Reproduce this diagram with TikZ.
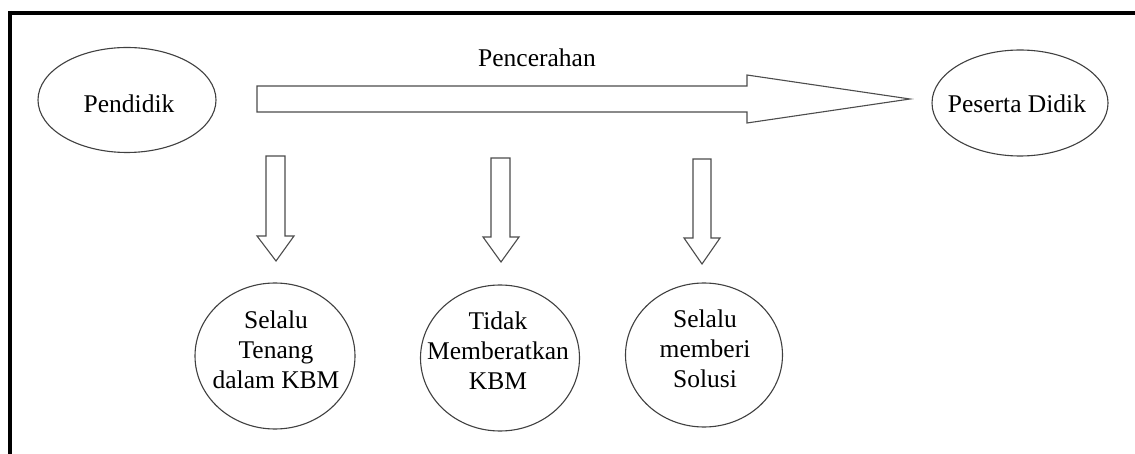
\documentclass[tikz,border=0pt]{standalone}
\usepackage{fontspec}
\newfontfamily\tnr{Liberation Serif}
\usetikzlibrary{shapes.geometric}
\begin{document}
\begin{tikzpicture}[x=1pt,y=-1pt,
  txt/.style={inner sep=0pt, align=center, font=\tnr\fontsize{25.5}{30}\selectfont},
  oval/.style={draw=black!75, line width=1.1pt},
  blockarrow/.style={draw=black!70, line width=1.1pt, fill=white, line join=miter}]
\useasboundingbox (0,0) rectangle (1135,454);
\fill[white] (0,0) rectangle (1135,454);
% frame
\draw[line width=4pt, black] (9.5,13) -- (1160,13);
\draw[line width=4pt, black] (9.5,11) -- (9.5,480);
% texts
\node[txt] (pendidik) at (129,104) {Pendidik};
\node[txt] (peserta) at (1017,104) {Peserta Didik};
\node[txt] (c1) at (276,350) {Selalu\\Tenang\\dalam KBM};
\node[txt] (c2) at (498,351) {Tidak\\Memberatkan\\KBM};
\node[txt] (c3) at (705,349) {Selalu\\memberi\\Solusi};
\node[txt, anchor=base] (pencerahan) at (537,67) {Pencerahan};
% ellipses
\draw[oval] (127,100) ellipse [x radius=89, y radius=52.5];
\draw[oval] (1020,103) ellipse [x radius=88, y radius=53];
\draw[oval] (275,356) ellipse [x radius=80, y radius=73];
\draw[oval] (500,358) ellipse [x radius=79.5, y radius=73];
\draw[oval] (704,355) ellipse [x radius=78.5, y radius=72];
% big arrow
\draw[blockarrow] (257,86) -- (747,86) -- (747,75) -- (910,99) -- (747,123) -- (747,112) -- (257,112) -- cycle;
% down arrows
\draw[blockarrow] (266,156) -- (285,156) -- (285,236) -- (294,236) -- (276,261) -- (257,236) -- (266,236) -- cycle;
\draw[blockarrow] (491,158) -- (510,158) -- (510,237) -- (519,237) -- (501,262) -- (483,237) -- (491,237) -- cycle;
\draw[blockarrow] (693,159) -- (711,159) -- (711,238) -- (720,238) -- (702,264) -- (684,238) -- (693,238) -- cycle;
\end{tikzpicture}
\end{document}
